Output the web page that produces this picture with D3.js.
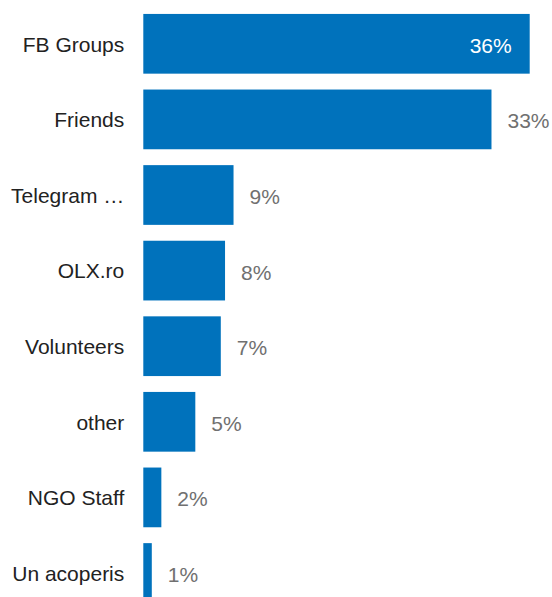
<!DOCTYPE html>
<html>
<head>
<meta charset="utf-8">
<script src="https://cdn.jsdelivr.net/npm/d3@7"></script>
<style>
  html, body { margin: 0; padding: 0; background: #fff; }
  svg { display: block; font-family: "Liberation Sans", Arial, sans-serif; }
</style>
</head>
<body>
<svg id="chart"></svg>
<script>
// data
const categories = ["FB Groups", "Friends", "Telegram …", "OLX.ro", "Volunteers", "other", "NGO Staff", "Un acoperis"];
const values = [36.4, 32.8, 8.5, 7.7, 7.3, 4.9, 1.7, 0.8];

const width = 552, height = 597;
const barLeft = 143.3, barRight = 529.7;

const svg = d3.select("#chart").attr("width", width).attr("height", height);

const x = d3.scaleLinear().domain([0, d3.max(values)]).range([barLeft, barRight]);
const y = d3.scaleBand().domain(categories)
    .range([6, 6 + 604.8])
    .paddingInner(0.21)
    .paddingOuter(0.105);

const rows = categories.map((c, i) => ({ cat: c, val: values[i] }));
const maxVal = d3.max(values);

// bars
svg.append("g").selectAll("rect")
    .data(rows)
    .join("rect")
    .attr("x", x(0))
    .attr("y", d => y(d.cat))
    .attr("width", d => x(d.val) - x(0))
    .attr("height", y.bandwidth())
    .attr("fill", "#0072bc");

// category labels
svg.append("g").selectAll("text")
    .data(rows)
    .join("text")
    .attr("x", barLeft - 19)
    .attr("y", d => y(d.cat) + y.bandwidth() / 2)
    .attr("dy", "0.37em")
    .attr("text-anchor", "end")
    .attr("font-size", 21)
    .attr("fill", "#222")
    .text(d => d.cat);

// value labels: the longest bar gets its label inside
const fmt = v => Math.round(v) + "%";
svg.append("g").selectAll("text")
    .data(rows)
    .join("text")
    .attr("x", d => d.val === maxVal ? x(d.val) - 18 : x(d.val) + 16)
    .attr("y", d => y(d.cat) + y.bandwidth() / 2)
    .attr("dy", "0.43em")
    .attr("text-anchor", d => d.val === maxVal ? "end" : "start")
    .attr("font-size", 21)
    .attr("fill", d => d.val === maxVal ? "#fff" : "#707070")
    .text(d => fmt(d.val));
</script>
</body>
</html>
